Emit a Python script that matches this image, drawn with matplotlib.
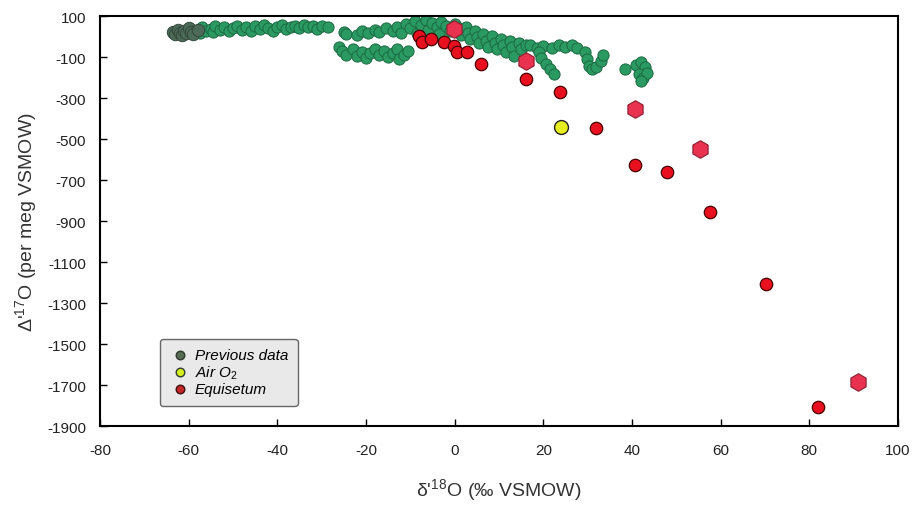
import matplotlib
matplotlib.use('Agg')
import matplotlib.pyplot as plt

plt.rcParams['font.family'] = ['Liberation Sans', 'DejaVu Sans']
plt.rcParams['mathtext.fontset'] = 'custom'
plt.rcParams['mathtext.rm'] = 'Liberation Sans'
plt.rcParams['mathtext.it'] = 'Liberation Sans:italic'
plt.rcParams['axes.unicode_minus'] = False

# 以前的数据（深色的一端）
prev_dark_x = [-63.5, -63, -62.5, -62, -61.5, -61, -60.5, -60, -59.5, -59, -58]
prev_dark_y = [25, 15, 35, 20, 10, 30, 18, 40, 25, 12, 35]

# 以前的数据（绿色）
prev_x = [-57.5, -57, -56, -55, -54.5, -54, -53, -52, -51, -50, -49, -48, -47, -46,
          -45, -44, -43, -42, -41, -40, -39, -38, -37, -36, -35, -34, -33, -32, -31,
          -30, -28.5,
          -25, -24.5, -22, -21, -19.5, -18, -17, -15.5, -14, -13, -12,
          -26, -25.5, -24.5, -23, -22, -21, -20, -19, -18, -17, -16, -15, -14, -13,
          -12.5, -11.5, -10.5,
          -11, -10, -9, -8.5, -7.5, -6.5, -6, -5, -4, -3.5, -3, -2, -1, 0, 1, 1.5,
          2.5, 3, 3.5, 4.5, 5, 5.5, 6.5, 7, 7.5, 8.5, 9, 9.5, 10.5, 11, 11.5, 12.5,
          13, 13.5, 14.5, 15, 16,
          17, 18.5, 20, 22, 23.5, 25, 26.5, 27.5,
          19, 19.5, 20.5, 21.5, 22.5,
          29.4, 29.8, 30.2, 31, 32, 33, 33.4,
          38.5,
          41, 42, 43, 41.5, 42.5, 43.5, 42]
prev_y = [20, 45, 28, 38, 22, 50, 32, 45, 28, 40, 52, 35, 45, 30,
          50, 38, 55, 42, 30, 48, 55, 38, 45, 52, 40, 58, 45, 50, 38,
          52, 45,
          22, 15, 10, 30, 18, 35, 25, 40, 30, 45, 20,
          -50, -70, -90, -60, -95, -75, -105, -80, -60, -90, -70, -100, -80, -60,
          -110, -90, -70,
          60, 40, 75, 20, 55, 80, 35, 65, 45, 15, 70, 50, 30, 60, 40, 10,
          45, 20, -10, 30, 0, -30, 15, -20, -50, 5, -30, -60, -10, -40, -75, -20,
          -50, -95, -30, -60, -40,
          -40, -55, -45, -55, -40, -50, -40, -55,
          -75, -105, -135, -160, -180,
          -76, -110, -145, -160, -150, -120, -90,
          -160,
          -140, -125, -150, -180, -200, -175, -215]

# 空气 O2
air_x = [24.0]
air_y = [-441]

# Equisetum（圆点）
equi_x = [-8, -7.4, -5.4, -2.5, -0.2, 0.5, 2.7, 6, 16.2, 23.8, 32, 40.8, 48, 57.7, 70.2, 82]
equi_y = [2, -27, -12, -27, -46, -76, -76, -134, -207, -270, -446, -627, -661, -856, -1207, -1807]

# Equisetum（六边形）
equi_hex_x = [-0.2, 16, 40.8, 55.4, 91]
equi_hex_y = [37, -118, -354, -549, -1685]

fig = plt.figure(figsize=(9.13, 5.06), dpi=100)
ax = fig.add_axes([0.1095, 0.156, 0.874, 0.81])

ax.scatter(prev_x, prev_y, s=65, c='#2a9a62', edgecolors='#1c6a42', linewidths=0.7, zorder=2)
ax.scatter(prev_dark_x, prev_dark_y, s=80, c='#4d6a58', edgecolors='#34483c', linewidths=0.7, zorder=2)
ax.scatter(equi_hex_x, equi_hex_y, s=160, marker='h', c='#e8324f', edgecolors='#8a1f30',
           linewidths=0.8, zorder=3)
ax.scatter(equi_x, equi_y, s=80, c='#e8101e', edgecolors='#4a0000', linewidths=0.9, zorder=4)
ax.scatter(air_x, air_y, s=100, c='#e6ee1e', edgecolors='#222222', linewidths=1.0, zorder=4)

# 图例用的代理
ax.scatter([], [], s=38, c='#5a6b55', edgecolors='#2e3a2e', label='Previous data')
ax.scatter([], [], s=38, c='#d8ee1a', edgecolors='#2e3a2e', label='Air O$_2$')
ax.scatter([], [], s=38, c='#c4262a', edgecolors='#3a1010', label='Equisetum')

ax.set_xlim(-80, 100)
ax.set_ylim(-1900, 100)
ax.set_xticks(range(-80, 101, 20))
ax.set_yticks(range(-1900, 101, 200))
ax.tick_params(direction='in', length=5, width=1, labelsize=11, labelcolor='#222222')
ax.tick_params(axis='x', pad=12)
ax.tick_params(axis='y', pad=10)
for sp in ax.spines.values():
    sp.set_linewidth(1.5)

ax.set_xlabel("δ'$^{18}$O (‰ VSMOW)", fontsize=14, color='#333333', labelpad=14)
ax.set_ylabel("Δ'$^{17}$O (per meg VSMOW)", fontsize=14, color='#333333', labelpad=6)

leg = ax.legend(loc='lower left', bbox_to_anchor=(0.075, 0.05), frameon=True, fancybox=True,
                prop={'style': 'italic', 'size': 11}, handletextpad=0.3, borderpad=0.6,
                labelspacing=0.1, handlelength=1.4, borderaxespad=0)
leg.get_frame().set_facecolor('#e9e9e9')
leg.get_frame().set_edgecolor('#666666')
leg.get_frame().set_alpha(1)

plt.savefig('out.png', dpi=100)
